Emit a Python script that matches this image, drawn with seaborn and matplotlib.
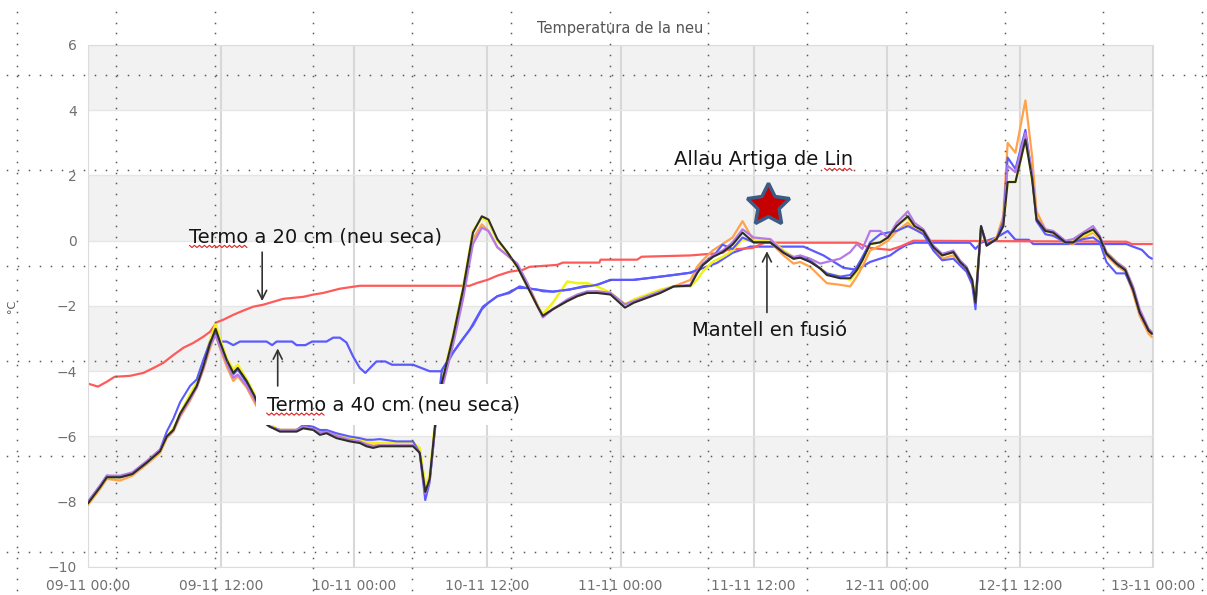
import numpy as np
import seaborn as sns
import matplotlib
matplotlib.use("Agg")
import matplotlib.pyplot as plt
from matplotlib.lines import Line2D

# hores des de 09-11 00:00
hores = [0.0, 1.1, 1.7, 2.9, 4.0, 5.3, 6.5, 7.1, 7.7, 8.3, 9.2, 9.8, 10.4, 11.0, 11.5, 11.9, 12.5, 13.1, 13.5, 14.3,
         15.0, 16.0, 16.4, 17.3, 18.8, 19.4, 20.3, 20.9, 21.5, 22.4, 23.6, 24.5, 25.1, 25.7, 26.3, 27.8, 29.3, 29.9, 30.4, 30.8,
         31.3, 31.9, 32.9, 33.8, 34.7, 35.5, 36.1, 36.9, 37.8, 38.7, 39.6, 40.5, 41.0, 41.9, 43.2, 44.1, 45.0, 45.9, 47.1, 48.4,
         49.2, 50.4, 51.6, 52.8, 54.3, 54.9, 55.4, 56.3, 57.2, 58.1, 59.0, 60.0, 61.5, 62.7, 63.6, 64.2, 65.1, 66.0, 66.6, 67.8,
         68.7, 69.3, 69.8, 70.5, 71.4, 72.1, 72.9, 73.9, 74.5, 75.3, 76.2, 77.0, 78.0, 78.6, 79.2, 79.7, 80.0, 80.5, 81.0, 81.9,
         82.5, 82.9, 83.6, 84.5, 85.1, 85.5, 86.3, 87.0, 88.1, 88.8, 89.7, 90.6, 91.2, 91.8, 92.7, 93.5, 94.2, 94.8, 95.6, 95.9]

negre = [-8.05, -7.55, -7.25, -7.25, -7.15, -6.8, -6.45, -6.0, -5.8, -5.3, -4.8, -4.45, -3.85, -3.15, -2.7, -3.1, -3.65, -4.05, -3.9, -4.3,
         -4.75, -5.6, -5.7, -5.85, -5.85, -5.75, -5.8, -5.95, -5.9, -6.05, -6.15, -6.2, -6.3, -6.35, -6.3, -6.3, -6.3, -6.5, -7.7, -7.3,
         -5.6, -4.35, -2.95, -1.5, 0.25, 0.75, 0.65, 0.05, -0.35, -0.8, -1.4, -2.0, -2.3, -2.1, -1.85, -1.7, -1.6, -1.6, -1.65, -2.05,
         -1.9, -1.75, -1.6, -1.4, -1.38, -1.0, -0.75, -0.5, -0.35, -0.12, 0.25, -0.05, -0.05, -0.37, -0.55, -0.52, -0.65, -0.85, -1.05, -1.15,
         -1.15, -0.9, -0.6, -0.1, -0.05, 0.1, 0.45, 0.75, 0.45, 0.3, -0.2, -0.45, -0.35, -0.65, -0.85, -1.2, -1.9, 0.45, -0.15, 0.05,
         0.45, 1.8, 1.8, 3.1, 1.9, 0.65, 0.3, 0.25, -0.05, -0.05, 0.2, 0.35, 0.1, -0.4, -0.7, -0.9, -1.5, -2.2, -2.75, -2.85]

taronja = [-8.1, -7.6, -7.3, -7.35, -7.2, -6.85, -6.5, -6.05, -5.85, -5.4, -4.9, -4.5, -3.95, -3.3, -2.85, -3.3, -3.85, -4.3, -4.15, -4.5,
           -4.95, -5.6, -5.7, -5.8, -5.8, -5.7, -5.75, -5.85, -5.85, -5.95, -6.08, -6.12, -6.22, -6.28, -6.25, -6.25, -6.25, -6.45, -7.65, -7.3,
           -5.65, -4.45, -3.05, -1.6, 0.05, 0.5, 0.3, -0.2, -0.45, -0.75, -1.3, -1.95, -2.3, -2.1, -1.85, -1.7, -1.6, -1.55, -1.6, -1.95,
           -1.85, -1.7, -1.55, -1.4, -1.2, -0.8, -0.6, -0.3, -0.1, 0.1, 0.6, 0.0, -0.05, -0.45, -0.7, -0.65, -0.8, -1.1, -1.3, -1.35,
           -1.4, -1.1, -0.8, -0.3, -0.15, 0.0, 0.3, 0.55, 0.35, 0.25, -0.25, -0.55, -0.45, -0.75, -0.95, -1.3, -1.85, 0.4, -0.1, 0.1,
           0.75, 3.0, 2.7, 4.3, 2.6, 0.9, 0.35, 0.2, -0.05, -0.1, 0.1, 0.25, 0.05, -0.45, -0.75, -0.95, -1.6, -2.3, -2.85, -2.95]

groc = [-8.05, -7.55, -7.25, -7.25, -7.15, -6.8, -6.45, -6.0, -5.75, -5.3, -4.7, -4.35, -3.75, -3.05, -2.55, -3.0, -3.6, -3.95, -3.8, -4.25,
        -4.7, -5.55, -5.65, -5.8, -5.8, -5.72, -5.75, -5.85, -5.85, -5.95, -6.05, -6.1, -6.15, -6.2, -6.2, -6.2, -6.2, -6.35, -7.5, -7.2,
        -5.5, -4.3, -2.9, -1.45, 0.3, 0.7, 0.6, 0.0, -0.35, -0.8, -1.4, -2.0, -2.25, -1.9, -1.25, -1.3, -1.3, -1.4, -1.6, -1.95,
        -1.8, -1.65, -1.5, -1.4, -1.4, -1.2, -0.95, -0.65, -0.5, -0.3, 0.05, 0.0, 0.05, -0.3, -0.5, -0.5, -0.6, -0.85, -1.0, -1.1,
        -1.2, -0.95, -0.6, -0.1, -0.05, 0.1, 0.5, 0.7, 0.45, 0.3, -0.2, -0.45, -0.35, -0.65, -0.85, -1.2, -1.8, 0.4, -0.1, 0.05,
        0.5, 1.8, 1.8, 3.1, 1.9, 0.65, 0.3, 0.25, -0.05, 0.0, 0.15, 0.3, 0.1, -0.35, -0.65, -0.85, -1.45, -2.15, -2.7, -2.8]

lila = [-8.0, -7.5, -7.2, -7.2, -7.1, -6.75, -6.4, -6.0, -5.8, -5.35, -4.85, -4.5, -3.9, -3.2, -2.9, -3.25, -3.75, -4.2, -4.1, -4.45,
        -4.85, -5.6, -5.7, -5.8, -5.8, -5.7, -5.78, -5.88, -5.85, -5.98, -6.1, -6.15, -6.25, -6.3, -6.27, -6.27, -6.27, -6.5, -7.75, -7.35,
        -5.7, -4.55, -3.2, -1.8, -0.1, 0.4, 0.3, -0.2, -0.45, -0.7, -1.3, -2.0, -2.35, -2.1, -1.8, -1.65, -1.55, -1.55, -1.6, -1.95,
        -1.85, -1.7, -1.55, -1.4, -1.35, -0.95, -0.7, -0.45, -0.3, -0.05, 0.35, 0.1, 0.05, -0.35, -0.5, -0.45, -0.55, -0.7, -0.65, -0.55,
        -0.35, -0.1, -0.25, 0.3, 0.3, 0.1, 0.55, 0.9, 0.55, 0.35, -0.15, -0.4, -0.3, -0.6, -0.8, -1.2, -1.9, 0.4, -0.15, 0.05,
        0.45, 2.3, 2.1, 3.3, 2.0, 0.7, 0.35, 0.3, 0.0, 0.05, 0.25, 0.45, 0.15, -0.35, -0.65, -0.85, -1.4, -2.1, -2.7, -2.8]

blau_sup = [-8.0, -7.5, -7.2, -7.25, -7.15, -6.8, -6.4, -5.85, -5.45, -4.95, -4.45, -4.25, -3.65, -3.1, -2.85, -3.2, -3.7, -4.1, -3.95, -4.35,
            -4.8, -5.6, -5.7, -5.8, -5.8, -5.65, -5.7, -5.8, -5.8, -5.9, -6.0, -6.05, -6.1, -6.1, -6.08, -6.15, -6.15, -6.5, -7.95, -7.4,
            -5.7, -3.95, -3.43, -3.0, -2.6, -2.1, -1.9, -1.7, -1.6, -1.45, -1.45, -1.5, -1.55, -1.56, -1.5, -1.45, -1.4, -1.35, -1.2, -1.2,
            -1.2, -1.15, -1.1, -1.05, -0.98, -0.9, -0.75, -0.5, -0.12, -0.25, 0.1, -0.05, -0.05, -0.35, -0.55, -0.5, -0.6, -0.85, -1.0, -1.1,
            -1.05, -0.8, -0.5, -0.05, 0.2, 0.25, 0.3, 0.45, 0.35, 0.2, -0.3, -0.6, -0.55, -0.75, -0.95, -1.35, -2.1, 0.45, -0.1, 0.05,
            0.6, 2.55, 2.2, 3.4, 2.0, 0.6, 0.2, 0.15, -0.05, -0.05, 0.05, 0.1, -0.05, -0.65, -1.0, -1.0, -1.5, -2.2, -2.75, -2.85]

# termo a 40 cm
hores_40 = [11.45, 11.9, 12.5, 13.1, 13.7, 16.1, 16.6, 17.0, 18.4, 18.8, 19.6, 20.2, 21.5, 22.1, 22.7, 23.3, 23.9, 24.5, 25.0, 26.0,
            26.8, 27.4, 29.3, 30.8, 32.0, 32.9, 34.4, 35.6, 36.9, 38.0, 38.9, 39.8, 41.9, 43.4, 44.6, 45.9, 47.1, 49.1, 51.6, 54.3,
            56.7, 58.1, 59.7, 64.5, 66.3, 68.1, 69.3, 70.5, 72.3, 73.0, 73.8, 74.5, 79.5, 80.0, 80.5, 81.9, 82.9, 83.6, 84.8, 85.2,
            93.6, 94.2, 95.0, 95.6, 95.9]
termo_40 = [-2.8, -3.09, -3.09, -3.2, -3.09, -3.09, -3.2, -3.09, -3.09, -3.2, -3.2, -3.09, -3.09, -2.97, -2.97, -3.12, -3.55, -3.9, -4.05, -3.7,
            -3.7, -3.8, -3.8, -4.0, -4.0, -3.43, -2.73, -2.02, -1.7, -1.6, -1.4, -1.47, -1.56, -1.5, -1.4, -1.35, -1.2, -1.2, -1.1, -0.98,
            -0.68, -0.37, -0.18, -0.18, -0.45, -0.83, -0.89, -0.65, -0.45, -0.28, -0.12, -0.06, -0.06, -0.25, -0.06, 0.1, 0.3, 0.03, 0.03, -0.1,
            -0.1, -0.18, -0.28, -0.49, -0.55]

# termo a 20 cm
hores_20 = [0.0, 0.9, 1.7, 2.4, 3.8, 5.0, 5.9, 6.8, 7.7, 8.6, 9.5, 10.4, 11.0, 11.6, 12.2, 13.1, 14.0, 14.9, 15.8, 16.7,
            17.6, 19.4, 20.3, 21.2, 22.7, 24.5, 34.4, 35.1, 36.0, 36.9, 38.0, 39.2, 39.8, 42.3, 42.8, 46.1, 46.2, 49.5, 49.9, 54.3,
            57.2, 57.6, 59.9, 61.0, 69.3, 70.5, 72.3, 73.2, 74.4, 93.6, 94.1, 95.9]
termo_20 = [-4.38, -4.47, -4.32, -4.17, -4.14, -4.05, -3.9, -3.74, -3.5, -3.28, -3.13, -2.94, -2.79, -2.5, -2.42, -2.27, -2.14, -2.02, -1.96, -1.87,
            -1.78, -1.72, -1.65, -1.6, -1.47, -1.38, -1.38, -1.29, -1.2, -1.07, -0.95, -0.89, -0.8, -0.74, -0.67, -0.67, -0.58, -0.58, -0.49, -0.45,
            -0.37, -0.28, -0.22, -0.06, -0.06, -0.22, -0.28, -0.18, 0.0, -0.03, -0.1, -0.1]

etiquetes_x = ['09-11 00:00', '09-11 12:00', '10-11 00:00', '10-11 12:00', '11-11 00:00',
               '11-11 12:00', '12-11 00:00', '12-11 12:00', '13-11 00:00']

# moment de l'allau
allau_h, allau_t = 61.3, 1.1

W, H = 1207, 595
sns.set_style("white")
plt.rcParams['font.family'] = ['DejaVu Sans']
fig = plt.figure(figsize=(W / 100, H / 100), dpi=100)
ax = fig.add_axes([88 / W, 1 - 567 / H, (1153 - 88) / W, (567 - 45) / H])

for lo in range(-8, 6, 4):
    ax.axhspan(lo, lo + 2, color='#f2f2f2', zorder=0, lw=0)

sns.lineplot(x=hores_40, y=termo_40, color='#5a5aff', lw=1.6, ax=ax, zorder=2)
sns.lineplot(x=hores_20, y=termo_20, color='#ff5a5a', lw=1.6, ax=ax, zorder=2)
sns.lineplot(x=hores, y=taronja, color='#ffa24a', lw=1.6, ax=ax, zorder=3)
sns.lineplot(x=hores, y=groc, color='#f2f21a', lw=1.8, ax=ax, zorder=3)
sns.lineplot(x=hores, y=blau_sup, color='#5a5aff', lw=1.5, ax=ax, zorder=3)
sns.lineplot(x=hores, y=lila, color='#b47ae6', lw=1.6, ax=ax, zorder=3)
sns.lineplot(x=hores, y=negre, color='#2e2e28', lw=1.5, ax=ax, zorder=3)

ax.set_xlim(0, 96)
ax.set_ylim(-10, 6)
ax.set_xticks(range(0, 97, 12))
ax.set_xticklabels(etiquetes_x)
ax.set_yticks(range(-10, 7, 2))
ax.tick_params(axis='both', length=0, labelsize=10, labelcolor='#707070')
ax.tick_params(axis='x', pad=9)
ax.tick_params(axis='y', pad=8)
ax.xaxis.grid(True, color='#d8d8d8', lw=1.5)
ax.yaxis.grid(True, color='#e6e6e6', lw=1)
ax.set_axisbelow(True)
for s in ax.spines.values():
    s.set_color('#dcdcdc')
ax.set_xlabel('')
ax.set_ylabel('°C', fontsize=8, color='#555555')
ax.yaxis.set_label_coords(-(88 - 17) / (1153 - 88), 0.5)
ax.set_title('Temperatura de la neu', fontsize=10.5, color='#555555', pad=9)

fp = dict(fontsize=14, color='#151515')
arr = dict(arrowstyle='->', color='#333333', lw=1.2, mutation_scale=16, shrinkA=0, shrinkB=0)
t20 = ax.text(20.55, 0.12, 'Termo a 20 cm (neu seca)', ha='center', va='center', zorder=6, **fp)
ax.annotate('', xy=(15.7, -1.85), xytext=(15.7, -0.35), arrowprops=arr, zorder=6)
t40 = ax.text(27.5, -5.02, 'Termo a 40 cm (neu seca)', ha='center', va='center', zorder=6,
              bbox=dict(boxstyle='square,pad=0.55', fc='white', ec='none'), **fp)
ax.annotate('', xy=(17.1, -3.3), xytext=(17.1, -4.45), arrowprops=arr, zorder=6)
tal = ax.text(60.9, 2.48, 'Allau Artiga de Lin', ha='center', va='center', zorder=6, **fp)
ax.text(61.4, -2.76, 'Mantell en fusió', ha='center', va='center', zorder=6, **fp)
ax.annotate('', xy=(61.2, -0.32), xytext=(61.2, -2.2), arrowprops=arr, zorder=6)
ax.plot([allau_h], [allau_t], marker=(5, 1, 0), ms=32, mfc='#c40000', mec='#3d5c85', mew=2.5, zorder=7)

# quadricula de punts superposada
for k in range(13):
    x = 17 + 98.75 * k
    ys = np.arange(12, H, 10.7)
    fig.add_artist(Line2D(np.full_like(ys, x) / W, 1 - ys / H, ls='none', marker='s', ms=1.1, mew=0,
                          color='#5a5a5a', transform=fig.transFigure, zorder=10))
for j in range(6):
    y = 75 + 95.3 * j
    xs = np.arange(7, W, 11)
    fig.add_artist(Line2D(xs / W, 1 - np.full_like(xs, y, dtype=float) / H, ls='none', marker='s', ms=1.1, mew=0,
                          color='#5a5a5a', transform=fig.transFigure, zorder=10))

# subratllat ondulat del corrector
fig.canvas.draw()
r = fig.canvas.get_renderer()


def ample(txt, t):
    tmp = fig.text(0, 0, txt, fontproperties=t.get_fontproperties())
    w = tmp.get_window_extent(r).width
    tmp.remove()
    return w


def ona(x0, x1, y):
    xs = np.arange(x0, x1, 2.5)
    ys = y - (np.arange(len(xs)) % 2) * 2.2
    fig.add_artist(Line2D(xs / W, ys / H, color='#e02020', lw=0.8, transform=fig.transFigure, zorder=8))


for t in (t20, t40):
    bb = t.get_window_extent(r)
    ona(bb.x0, bb.x0 + ample('Termo', t), bb.y0 + 1)
bb = tal.get_window_extent(r)
ona(bb.x1 - ample('Lin', tal), bb.x1, bb.y0 + 1)

fig.savefig('out.png', dpi=100)
